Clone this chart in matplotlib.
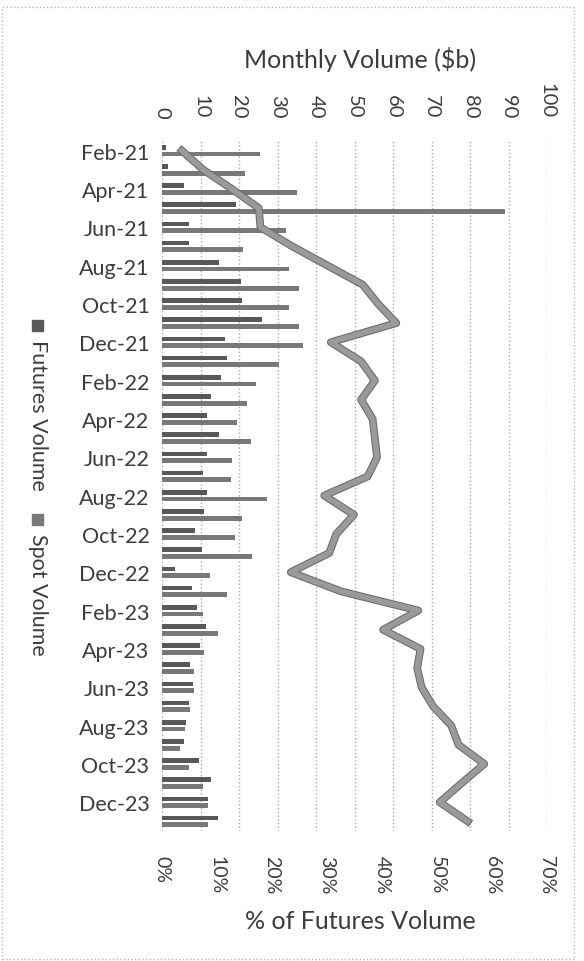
import numpy as np
import matplotlib
matplotlib.use('Agg')
import matplotlib.pyplot as plt
import matplotlib.patheffects as pe
from matplotlib.patches import Rectangle

plt.rcParams['font.family'] = ['Lato', 'DejaVu Sans']

months = ['Feb-21', 'Mar-21', 'Apr-21', 'May-21', 'Jun-21', 'Jul-21', 'Aug-21', 'Sep-21',
          'Oct-21', 'Nov-21', 'Dec-21', 'Jan-22', 'Feb-22', 'Mar-22', 'Apr-22', 'May-22',
          'Jun-22', 'Jul-22', 'Aug-22', 'Sep-22', 'Oct-22', 'Nov-22', 'Dec-22', 'Jan-23',
          'Feb-23', 'Mar-23', 'Apr-23', 'May-23', 'Jun-23', 'Jul-23', 'Aug-23', 'Sep-23',
          'Oct-23', 'Nov-23', 'Dec-23', 'Jan-24']

# monthly volume, $b
futures = [1.0, 1.5, 5.7, 19.1, 7.0, 7.0, 14.8, 20.4, 20.7, 26.1, 16.3, 17.0,
           15.4, 12.8, 11.7, 14.8, 11.7, 10.7, 11.7, 10.9, 8.5, 10.4, 3.5, 7.7,
           9.1, 11.3, 9.8, 7.2, 8.1, 7.0, 6.2, 5.7, 9.6, 12.6, 11.9, 14.5]
spot = [25.5, 21.6, 35.0, 89.0, 32.3, 21.0, 33.0, 35.7, 33.0, 35.7, 36.5, 30.3,
        24.3, 22.2, 19.4, 23.0, 18.3, 18.0, 27.4, 20.7, 18.9, 23.3, 12.4, 17.0,
        10.7, 14.5, 10.9, 8.4, 8.4, 7.2, 5.9, 4.6, 7.0, 10.6, 11.9, 11.9]
# % of futures volume
pct_futures = [3.6, 7.5, 12.7, 17.6, 17.9, 23.7, 30.1, 36.5, 39.3, 42.6, 30.7, 36.2,
               38.7, 36.2, 38.3, 38.7, 39.1, 37.4, 29.5, 34.9, 31.7, 30.4, 23.4, 32.6,
               46.6, 40.2, 47.0, 46.4, 47.2, 49.3, 52.6, 53.9, 58.6, 54.5, 50.5, 55.6]

vol_ticks = list(range(0, 101, 10))
pct_ticks = [0, 10, 20, 30, 40, 50, 60, 70]

W, H = 584, 962
txt = '#3c3c3c'
fig = plt.figure(figsize=(W / 100, H / 100), dpi=100)
ax = fig.add_axes([162 / W, 1 - 832 / H, (547 - 162) / W, (832 - 142) / H])
ax2 = ax.twiny()

y = np.arange(len(months))
bh = 0.25
fut_color = '#585858'
spot_color = '#787878'
ax.barh(y - 0.175, futures, height=bh, color=fut_color, zorder=2)
ax.barh(y + 0.175, spot, height=bh, color=spot_color, zorder=2)

ax.set_xlim(0, 100)
ax.set_ylim(len(months) - 0.5, -0.5)
ax.xaxis.tick_top()
ax.xaxis.set_label_position('top')
ax.set_xticks(vol_ticks)
ax.set_xticklabels([str(v) for v in vol_ticks], rotation=270, fontsize=14.5, color=txt)
ax.tick_params(axis='x', length=0, pad=17)
ax.set_yticks(y[::2])
ax.set_yticklabels(months[::2], fontsize=15.5, color=txt)
ax.tick_params(axis='y', length=0, pad=9)
ax.grid(axis='x', color='#ababab', linestyle=':', linewidth=1.0)
ax.set_axisbelow(True)
for s in ax.spines.values():
    s.set_visible(False)

ax2.plot(pct_futures, y, color='#9a9a9a', linewidth=4.0, zorder=3,
         path_effects=[pe.Stroke(linewidth=5.6, foreground='#6e6e6e'), pe.Normal()])
ax2.set_xlim(0, 70)
ax2.xaxis.tick_bottom()
ax2.xaxis.set_label_position('bottom')
ax2.set_xticks(pct_ticks)
ax2.set_xticklabels([f'{p}%' for p in pct_ticks], rotation=270, fontsize=14, color=txt)
ax2.tick_params(axis='x', length=0, pad=17)
for s in ax2.spines.values():
    s.set_visible(False)

# axis titles
fig.text(360 / W, 1 - 60 / H, 'Monthly Volume ($b)', ha='center', va='center',
         fontsize=18, color=txt)
fig.text(360 / W, 1 - 922 / H, '% of Futures Volume', ha='center', va='center',
         fontsize=18, color=txt)

# legend, drawn sideways
fig.patches.append(Rectangle((32 / W, 1 - 332 / H), 11 / W, 11 / H,
                             transform=fig.transFigure, color=fut_color))
fig.text(37.5 / W, 1 - 340 / H, 'Futures Volume', rotation=270, ha='center', va='top',
         fontsize=15.5, color=txt)
fig.patches.append(Rectangle((32 / W, 1 - 526 / H), 11 / W, 11 / H,
                             transform=fig.transFigure, color=spot_color))
fig.text(37.5 / W, 1 - 534 / H, 'Spot Volume', rotation=270, ha='center', va='top',
         fontsize=15.5, color=txt)

# chart border
fig.patches.append(Rectangle((2 / W, 2 / H), (574 - 2) / W, (958 - 6) / H,
                             transform=fig.transFigure, fill=False,
                             edgecolor='#b8b8b8', linestyle=':', linewidth=1.0))

fig.savefig('out.png', dpi=100)
